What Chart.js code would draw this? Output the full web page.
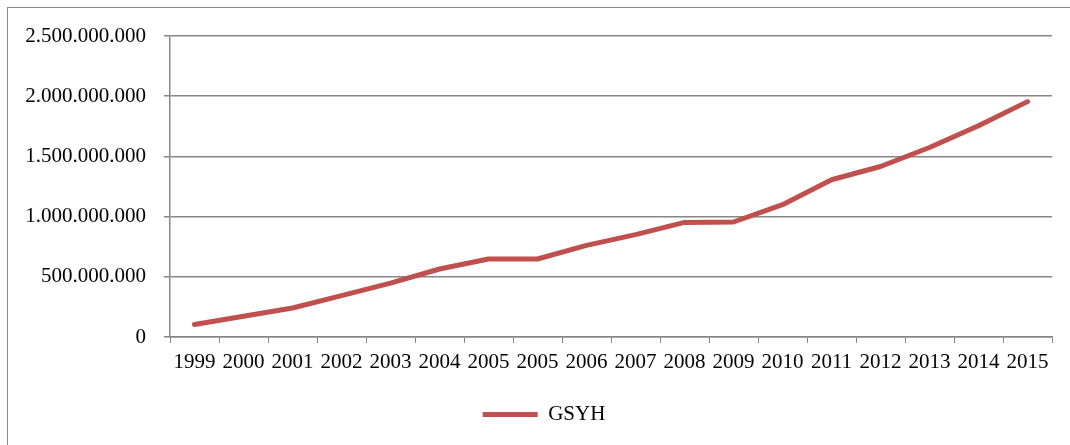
<!DOCTYPE html>
<html>
<head>
<meta charset="utf-8">
<script src="https://cdn.jsdelivr.net/npm/chart.js@4/dist/chart.umd.min.js"></script>
<style>
    html, body { margin: 0; padding: 0; background: #fff; overflow: hidden; }
    #wrap { position: relative; width: 1070px; height: 445px; }
    #frame { position: absolute; left: 7px; top: 7px; width: 1100px; height: 500px; border: 1px solid #8a8a8a; box-sizing: border-box; }
    #gsyhChart { position: absolute; left: 0; top: 0; }
</style>
</head>
<body>
<div id="wrap">
    <div id="frame"></div>
    <canvas id="gsyhChart" width="1070" height="445"></canvas>
</div>
<script>
const years = ['1999', '2000', '2001', '2002', '2003', '2004', '2005', '2005', '2006', '2007', '2008', '2009', '2010', '2011', '2012', '2013', '2014', '2015'];
const gsyh = [104000000, 172000000, 241000000, 344000000, 448000000, 565000000, 648000000, 648000000, 761000000, 850000000, 952000000, 955000000, 1099000000, 1306000000, 1416000000, 1574000000, 1754000000, 1955000000];
const yTicks = [0, 500000000, 1000000000, 1500000000, 2000000000, 2500000000];

const gridColor = '#868686';
const textFont = { family: '"Liberation Serif", "Times New Roman", serif', size: 21 };

// 2.500.000.000 style
const formatDots = (value) => String(value).replace(/\B(?=(\d{3})+(?!\d))/g, '.');

// legend in the original sits a bit right of the canvas centre
const legendShift = {
    id: 'legendShift',
    afterLayout: (chart) => {
        chart.legend.left += 18;
        chart.legend.right += 18;
    }
};

const ctx = document.getElementById('gsyhChart').getContext('2d');
const gsyhChart = new Chart(ctx, {
    type: 'line',
    data: {
        labels: years,
        datasets: [{
            label: 'GSYH',
            data: gsyh,
            borderColor: '#C0504D',
            backgroundColor: '#C0504D',
            borderWidth: 5,
            borderCapStyle: 'round',
            borderJoinStyle: 'round',
            pointRadius: 0,
            pointHoverRadius: 0,
            pointStyle: 'line',
            tension: 0,
        }]
    },
    options: {
        responsive: false,
        animation: false,
        layout: {
            padding: { left: 0, top: 36, right: 18, bottom: 10 }
        },
        plugins: {
            tooltip: { enabled: false },
            legend: {
                display: true,
                position: 'bottom',
                labels: {
                    color: '#000',
                    font: textFont,
                    usePointStyle: true,
                    pointStyleWidth: 55,
                    padding: 10
                }
            }
        },
        scales: {
            x: {
                offset: true,
                grid: {
                    offset: true,
                    drawOnChartArea: false,
                    drawTicks: true,
                    tickLength: 6,
                    color: gridColor
                },
                border: { color: gridColor, width: 1.5 },
                ticks: {
                    color: '#000',
                    font: textFont,
                    maxRotation: 0,
                    autoSkip: false,
                    padding: 7
                },
                afterFit: (axis) => { axis.height = 57; }
            },
            y: {
                min: 0,
                max: 2500000000,
                afterBuildTicks: (axis) => { axis.ticks = yTicks.map(v => ({ value: v })); },
                grid: {
                    color: gridColor,
                    lineWidth: 1.5,
                    drawTicks: true,
                    tickLength: 6
                },
                border: { color: gridColor, width: 1.5 },
                ticks: {
                    color: '#000',
                    font: textFont,
                    padding: 18,
                    callback: (value) => formatDots(value)
                },
                afterFit: (axis) => { axis.width = 170; }
            }
        }
    },
    plugins: [legendShift]
});
</script>
</body>
</html>
